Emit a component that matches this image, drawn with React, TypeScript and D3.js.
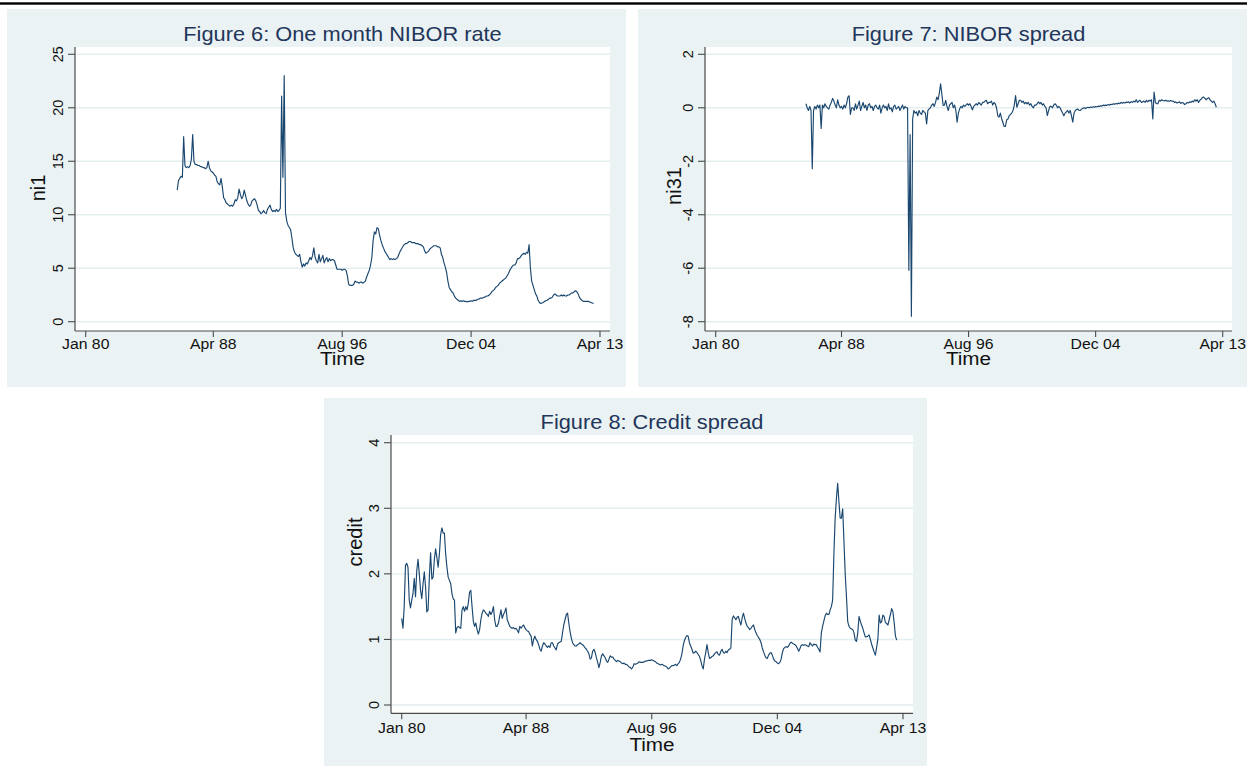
import React from 'react';
import * as d3 from 'd3';

// ---------- data (Stata monthly index: months since Jan 1960) ----------
const xTickMonths = [240, 339, 439, 539, 639];
const xTickLabels = ['Jan 80', 'Apr 88', 'Aug 96', 'Dec 04', 'Apr 13'];

const ni1Ticks = [0, 5, 10, 15, 20, 25];
const ni31Ticks = [-8, -6, -4, -2, 0, 2];
const creditTicks = [0, 1, 2, 3, 4];

const ni1Start = 311; // 1985m12
const ni1Values = [
  12.3,
  13.2, 13.4, 13.6, 13.5, 17.3, 14.6, 14.4, 14.5, 14.4, 14.6, 15.2, 17.5,
  15.0, 14.7, 14.7, 14.6, 14.6, 14.5, 14.5, 14.4, 14.4, 14.3, 14.4, 15.0,
  14.4, 14.1, 14.0, 13.9, 13.7, 13.6, 13.1, 12.9, 12.8, 13.4, 12.6, 11.6,
  11.4, 11.1, 11.0, 10.9, 10.8, 10.9, 10.8, 11.0, 11.4, 11.3, 11.6, 12.4,
  11.9, 11.5, 11.7, 12.3, 11.8, 11.3, 11.0, 10.8, 10.9, 11.3, 11.4, 11.5,
  11.3, 10.9, 10.4, 10.3, 10.1, 10.2, 10.4, 10.2, 10.1, 10.5, 10.7, 10.9,
  10.5, 10.3, 10.4, 10.3, 10.5, 10.3, 10.4, 10.6, 21.1, 13.5, 23.0, 10.2,
  9.4, 9.0, 8.8, 8.6, 7.8, 6.9, 6.5, 6.3, 6.2, 6.1, 6.3, 5.6,
  5.1, 5.4, 5.2, 5.5, 5.4, 5.7, 6.0, 5.8, 6.2, 6.9, 6.0, 5.7,
  5.5, 6.3, 5.6, 5.9, 6.2, 5.5, 5.8, 6.0, 5.6, 5.9, 5.7, 5.8,
  5.8, 5.7, 5.3, 4.9, 4.9, 4.9, 4.9, 4.8, 4.9, 4.9, 4.8, 4.3,
  3.5, 3.4, 3.4, 3.4, 3.5, 3.8, 3.7, 3.7, 3.6, 3.7, 3.7, 3.6,
  3.7, 3.8, 4.2, 4.5, 4.8, 5.3, 6.0, 7.6, 8.4, 8.2, 8.8, 8.7,
  8.1, 7.6, 7.2, 6.9, 6.6, 6.4, 6.2, 6.0, 5.8, 5.9, 5.8, 5.9,
  5.8, 5.9, 6.0, 6.3, 6.6, 6.8, 7.0, 7.2, 7.3, 7.3, 7.4, 7.5,
  7.5, 7.4, 7.4, 7.4, 7.3, 7.3, 7.3, 7.2, 7.2, 7.1, 7.0, 6.6,
  6.4, 6.5, 6.6, 6.8, 6.9, 7.0, 7.1, 7.1, 7.1, 7.0, 7.0, 6.9,
  6.3, 6.0, 5.5, 5.1, 4.6, 3.8, 3.2, 3.0, 2.8, 2.7, 2.4, 2.2,
  2.1, 2.0, 1.9, 1.95, 1.9, 1.95, 1.9, 1.9, 1.85, 1.9, 1.9, 1.95,
  1.9, 2.0, 2.0, 2.0, 2.1, 2.1, 2.2, 2.2, 2.2, 2.3, 2.3, 2.4,
  2.4, 2.5, 2.6, 2.8, 2.9, 3.0, 3.2, 3.3, 3.4, 3.6, 3.7, 3.8,
  3.9, 4.0, 4.1, 4.3, 4.5, 4.8, 5.0, 5.2, 5.3, 5.3, 5.5, 5.9,
  5.9, 6.0, 6.2, 6.3, 6.4, 6.3, 6.5, 6.4, 7.2, 5.0, 3.8, 3.4,
  3.0, 2.6, 2.4, 2.0, 1.8, 1.7, 1.75, 1.8, 1.9, 1.95, 2.0, 2.1,
  2.2, 2.2, 2.3, 2.5, 2.6, 2.5, 2.4, 2.4, 2.4, 2.5, 2.4, 2.5,
  2.4, 2.4, 2.5, 2.5, 2.6, 2.7, 2.7, 2.8, 2.9, 2.8, 2.6, 2.3,
  2.1, 2.0, 1.9, 1.9, 1.9, 1.9, 1.9, 1.85, 1.8, 1.75, 1.7,
];

const ni31Start = 311; // 1985m12
const ni31Values = [
  0.15,
  0.0, -0.1, 0.05, -0.1, -2.28, -0.1, 0.05, -0.05, 0.1, 0.0, 0.1, -0.77,
  0.1, 0.0, 0.15, 0.05, 0.0, -0.05, 0.1, 0.2, 0.35, 0.25, 0.1, 0.0,
  0.3, 0.1, 0.0, 0.05, -0.05, 0.1, 0.0, 0.15, 0.4, 0.45, -0.25, 0.0,
  0.0, -0.1, 0.15, -0.05, 0.1, 0.25, -0.1, 0.05, 0.2, 0.0, 0.1, -0.1,
  0.1, 0.15, 0.0, 0.05, -0.1, 0.05, 0.1, 0.0, -0.05, 0.1, -0.2, 0.0,
  0.1, 0.0, 0.05, -0.1, 0.15, -0.05, 0.0, -0.15, 0.05, 0.1, -0.05, 0.0,
  0.05, -0.1, 0.0, 0.1, -0.05, 0.05, 0.0, 0.0, -6.08, -1.0, -7.8, -0.42,
  -0.1, -0.2, -0.15, -0.3, -0.1, -0.2, -0.25, -0.1, -0.15, -0.2, -0.6, -0.1,
  -0.04, 0.0, 0.1, 0.15, 0.05, 0.2, 0.4, 0.3, 0.55, 0.9, 0.5, 0.09,
  0.1, 0.28, 0.05, -0.1, 0.1, 0.15, 0.2, 0.0, 0.1, -0.1, -0.54, -0.2,
  -0.04, 0.05, 0.0, 0.1, 0.05, 0.1, 0.15, 0.1, 0.15, 0.05, -0.08, 0.05,
  0.1, 0.15, 0.1, 0.2, 0.15, 0.1, 0.2, 0.2, 0.25, 0.28, 0.15, 0.2,
  0.2, 0.25, 0.1, 0.2, 0.15, 0.0, -0.3, -0.35, -0.2, -0.4, -0.55, -0.7,
  -0.7, -0.45, -0.42, -0.3, -0.25, -0.2, -0.1, 0.1, 0.46, 0.02, 0.15, 0.28,
  0.28, 0.2, 0.25, 0.15, 0.2, 0.15, 0.2, 0.1, 0.15, 0.05, 0.0, 0.1,
  0.1, 0.15, 0.22, 0.15, 0.2, 0.1, 0.15, 0.05, 0.0, -0.29, -0.1, 0.05,
  0.05, 0.0, 0.1, 0.15, 0.1, 0.0, 0.05, 0.0, -0.1, -0.2, -0.3, -0.2,
  -0.15, -0.1, -0.2, -0.1, -0.3, -0.54, -0.2, -0.1, -0.06, -0.05, -0.1, -0.1,
  -0.05, -0.02, 0.0, -0.03, 0.0, 0.02, 0.0, 0.03, 0.01, 0.04, 0.02, 0.05,
  0.04, 0.06, 0.05, 0.08, 0.06, 0.1, 0.08, 0.1, 0.09, 0.12, 0.1, 0.13,
  0.12, 0.15, 0.13, 0.16, 0.14, 0.18, 0.15, 0.2, 0.17, 0.2, 0.18, 0.21,
  0.2, 0.22, 0.18, 0.23, 0.2, 0.25, 0.22, 0.3, 0.2, 0.25, 0.28, 0.2,
  0.22, 0.25, 0.2, 0.28, 0.22, 0.28, 0.25, 0.3, -0.42, 0.59, 0.2, 0.15,
  0.15, 0.28, 0.25, 0.3, 0.27, 0.25, 0.28, 0.25, 0.26, 0.24, 0.27, 0.25,
  0.25, 0.2, 0.22, 0.18, 0.2, 0.22, 0.16, 0.2, 0.18, 0.12, 0.15, 0.2,
  0.18, 0.22, 0.2, 0.25, 0.22, 0.3, 0.25, 0.3, 0.2, 0.28, 0.32, 0.38,
  0.4, 0.35, 0.3, 0.35, 0.38, 0.3, 0.25, 0.2, 0.25, 0.15, 0.02,
];

const creditStart = 240; // 1980m1
const creditValues = [
  1.32, 1.17, 1.5, 2.13, 2.16, 2.1, 1.6, 1.48, 1.6, 1.7, 1.93, 1.65,
  2.05, 2.22, 2.0, 1.75, 1.62, 1.85, 2.03, 1.8, 1.42, 1.45, 1.95, 2.32,
  1.92, 1.95, 2.22, 2.38, 2.25, 2.1, 2.3, 2.6, 2.7, 2.62, 2.62, 2.3,
  2.1, 1.95, 1.9, 1.85, 1.7, 1.62, 1.6, 1.1, 1.18, 1.2, 1.18, 1.17,
  1.45, 1.5, 1.43, 1.5, 1.45, 1.55, 1.72, 1.75, 1.5, 1.28, 1.2, 1.25,
  1.15, 1.08, 1.15, 1.3, 1.4, 1.45, 1.43, 1.4, 1.38, 1.35, 1.43, 1.38,
  1.42, 1.5, 1.3, 1.2, 1.2, 1.25, 1.35, 1.45, 1.32, 1.38, 1.42, 1.48,
  1.3, 1.25, 1.2, 1.18, 1.17, 1.18, 1.16, 1.17, 1.14, 1.1, 1.2, 1.17,
  1.2, 1.22, 1.18, 1.15, 1.13, 1.12, 1.08, 1.05, 0.9, 1.0, 1.05, 1.0,
  0.97, 0.92, 0.85, 0.82, 0.9, 0.95, 0.93, 0.9, 0.88, 0.9, 0.88, 0.95,
  0.95, 0.9, 0.87, 0.84, 0.93, 0.95, 0.96, 0.97, 1.1, 1.22, 1.3, 1.38,
  1.4, 1.25, 1.12, 1.02, 0.95, 0.92, 0.9, 0.9, 0.92, 0.93, 0.95, 0.93,
  0.92, 0.9, 0.87, 0.85, 0.82, 0.78, 0.7, 0.72, 0.82, 0.85, 0.8, 0.72,
  0.65, 0.57, 0.65, 0.75, 0.78, 0.75, 0.72, 0.67, 0.65, 0.7, 0.75, 0.73,
  0.73, 0.7, 0.68, 0.66, 0.68, 0.67, 0.66, 0.64, 0.63, 0.64, 0.62, 0.62,
  0.6, 0.58, 0.57, 0.55, 0.58, 0.63, 0.62, 0.63, 0.64, 0.66, 0.65, 0.65,
  0.65, 0.66, 0.67, 0.67, 0.68, 0.68, 0.68, 0.69, 0.68, 0.67, 0.66, 0.64,
  0.63, 0.62, 0.61, 0.62, 0.61, 0.6, 0.59, 0.58, 0.55, 0.56, 0.58, 0.6,
  0.6, 0.61, 0.62, 0.6, 0.63, 0.65, 0.7, 0.78, 0.9, 0.98, 1.03, 1.06,
  1.05, 0.95, 0.9, 0.85, 0.79, 0.8, 0.82, 0.8, 0.77, 0.74, 0.68, 0.6,
  0.55, 0.7, 0.8, 0.92, 0.8, 0.71, 0.72, 0.74, 0.75, 0.78, 0.8, 0.81,
  0.77, 0.76, 0.82, 0.85, 0.8, 0.79, 0.82, 0.8, 0.84, 0.85, 0.87, 1.3,
  1.36, 1.33, 1.3, 1.34, 1.35, 1.28, 1.22, 1.33, 1.4, 1.32, 1.25, 1.2,
  1.18, 1.15, 1.17, 1.2, 1.22, 1.15, 1.1, 1.06, 1.03, 1.0, 0.95, 0.87,
  0.81, 0.76, 0.72, 0.71, 0.76, 0.79, 0.8, 0.76, 0.7, 0.67, 0.66, 0.64,
  0.63, 0.65, 0.7, 0.8, 0.86, 0.88, 0.89, 0.88, 0.9, 0.94, 0.96, 0.94,
  0.93, 0.92, 0.9, 0.86, 0.82, 0.86, 0.91, 0.92, 0.91, 0.92, 0.91, 0.9,
  0.89, 0.95, 0.92, 0.9, 0.93, 0.92, 0.92, 0.88, 0.85, 0.81, 1.1, 1.2,
  1.28, 1.36, 1.4, 1.38, 1.38, 1.45, 1.5, 1.6, 2.3, 2.85, 3.15, 3.38,
  3.1, 2.85, 2.85, 2.99, 2.5, 2.0, 1.65, 1.27, 1.2, 1.17, 1.16, 1.15,
  1.1, 0.99, 0.97, 1.1, 1.35, 1.28, 1.22, 1.17, 1.1, 1.04, 1.04, 1.05,
  1.07, 1.0, 0.93, 0.87, 0.81, 0.76, 0.88, 1.0, 1.37, 1.25, 1.27, 1.37,
  1.35, 1.26, 1.24, 1.22, 1.3, 1.38, 1.47, 1.42, 1.25, 1.05, 0.99,
];

// ---------- styling ----------
const FONT = "'Liberation Sans', Arial, Helvetica, sans-serif";
const BG = '#EAF2F3';
const GRID = '#E4EDEF';
const LINE = '#1A476F';
const AXIS = '#4a4a4a';
const TITLE = '#22355A';
const SX = 1.09;

type HTextProps = { x: number; y: number; size: number; fill?: string; children: React.ReactNode };
function HText({ x, y, size, fill = '#111', children }: HTextProps) {
  return (
    <text
      transform={`translate(${x},${y}) scale(${SX},1)`}
      fontSize={size}
      fontFamily={FONT}
      textAnchor="middle"
      fill={fill}
    >
      {children}
    </text>
  );
}

type PanelProps = {
  bg: [number, number, number, number];
  plot: [number, number, number, number]; // left, top, right, bottom
  xPix: [number, number]; // pixel for 240 and 639
  yDomain: [number, number];
  yPix: [number, number];
  yTicks: number[];
  start: number;
  values: number[];
  title: string;
  titleY: number;
  yTitle: string;
  yTitleX: number;
  yTitleY: number;
  tickLabelDy: number;
  timeY: number;
};

function Panel(p: PanelProps) {
  const [bx, by, bw, bh] = p.bg;
  const [l, t, r, b] = p.plot;
  const x = d3.scaleLinear().domain([240, 639]).range(p.xPix);
  const y = d3.scaleLinear().domain(p.yDomain).range(p.yPix);
  const line = d3
    .line<number>()
    .x((_, i) => x(p.start + i))
    .y((d) => y(d));
  const cx = (l + r) / 2;
  return (
    <g>
      <rect x={bx} y={by} width={bw} height={bh} fill={BG} />
      <rect x={l} y={t} width={r - l} height={b - t} fill="#fff" />
      {p.yTicks.map((v) => (
        <line key={'g' + v} x1={l} x2={r} y1={y(v)} y2={y(v)} stroke={GRID} strokeWidth={1.4} />
      ))}
      <path d={line(p.values) || ''} fill="none" stroke={LINE} strokeWidth={1.15} strokeLinejoin="round" />
      <line x1={l} x2={l} y1={t} y2={b} stroke={AXIS} strokeWidth={1.2} />
      <line x1={l} x2={r} y1={b} y2={b} stroke={AXIS} strokeWidth={1.2} />
      {p.yTicks.map((v) => (
        <g key={'t' + v}>
          <line x1={l - 7} x2={l} y1={y(v)} y2={y(v)} stroke={AXIS} strokeWidth={1.1} />
          <text
            transform={`translate(${l - 12},${y(v)}) rotate(-90)`}
            fontSize={14.5}
            fontFamily={FONT}
            textAnchor="middle"
            fill="#111"
          >
            {v}
          </text>
        </g>
      ))}
      {xTickMonths.map((m, i) => (
        <g key={'x' + m}>
          <line x1={x(m)} x2={x(m)} y1={b} y2={b + 6} stroke={AXIS} strokeWidth={1.1} />
          <HText x={x(m)} y={b + p.tickLabelDy} size={14.5}>
            {xTickLabels[i]}
          </HText>
        </g>
      ))}
      <HText x={cx} y={p.titleY} size={20} fill={TITLE}>
        {p.title}
      </HText>
      <HText x={cx} y={p.timeY} size={19}>
        Time
      </HText>
      <text
        transform={`translate(${p.yTitleX},${p.yTitleY}) rotate(-90)`}
        fontSize={20}
        fontFamily={FONT}
        textAnchor="middle"
        fill="#111"
      >
        {p.yTitle}
      </text>
    </g>
  );
}

export default function App() {
  return (
    <svg
      width={1247}
      height={766}
      style={{ position: 'absolute', left: 0, top: 0, background: '#fff' }}
    >
      <rect x={0} y={2.3} width={1247} height={2.4} fill="#000" />
      <Panel
        bg={[7, 9, 619, 378]}
        plot={[75, 47, 610, 331]}
        xPix={[85.7, 600]}
        yDomain={[0, 25]}
        yPix={[321.7, 54.3]}
        yTicks={ni1Ticks}
        start={ni1Start}
        values={ni1Values}
        title="Figure 6: One month NIBOR rate"
        titleY={41}
        yTitle="ni1"
        yTitleX={45}
        yTitleY={188}
        tickLabelDy={18}
        timeY={364.5}
      />
      <Panel
        bg={[638, 9, 609, 378]}
        plot={[705, 47, 1232, 331]}
        xPix={[715.7, 1222.7]}
        yDomain={[-8, 2]}
        yPix={[321.7, 54.3]}
        yTicks={ni31Ticks}
        start={ni31Start}
        values={ni31Values}
        title="Figure 7: NIBOR spread"
        titleY={41}
        yTitle="ni31"
        yTitleX={681}
        yTitleY={186}
        tickLabelDy={18}
        timeY={364.5}
      />
      <Panel
        bg={[324, 398, 603, 368]}
        plot={[391, 435, 913, 713.3]}
        xPix={[401.7, 903]}
        yDomain={[0, 4]}
        yPix={[705, 442.7]}
        yTicks={creditTicks}
        start={creditStart}
        values={creditValues}
        title="Figure 8: Credit spread"
        titleY={428.5}
        yTitle="credit"
        yTitleX={362}
        yTitleY={542}
        tickLabelDy={19.5}
        timeY={751}
      />
    </svg>
  );
}
